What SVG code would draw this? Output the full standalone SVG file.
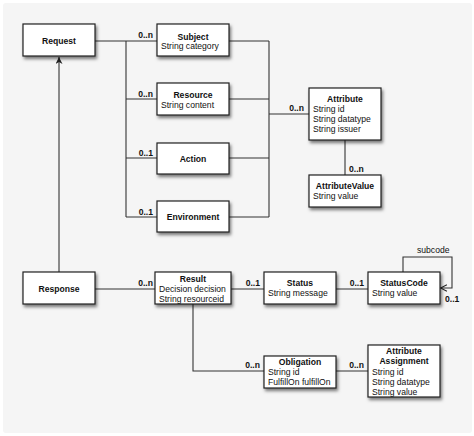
<svg xmlns="http://www.w3.org/2000/svg" width="474" height="436" viewBox="0 0 474 436">
<defs>
<filter id="sh" x="-20%" y="-20%" width="150%" height="160%">
<feDropShadow dx="1.5" dy="2.5" stdDeviation="1.5" flood-color="#000" flood-opacity="0.5"/>
</filter>
<marker id="open" viewBox="0 0 10 10" refX="9" refY="5" markerWidth="8" markerHeight="8" markerUnits="userSpaceOnUse" orient="auto">
<path d="M1,1 L9,5 L1,9" fill="none" stroke="#222" stroke-width="1.3"/>
</marker>
<marker id="stealth" viewBox="0 0 10 10" refX="10" refY="5" markerWidth="9" markerHeight="7" markerUnits="userSpaceOnUse" orient="auto">
<path d="M0,0 L10,5 L0,10 L3,5 Z" fill="#222"/>
</marker>
<style>
.box{fill:#fff;stroke:#222;stroke-width:1.2;filter:url(#sh)}
.t{font-family:"Liberation Sans",Arial,sans-serif;font-size:8.6px;fill:#111}
.b{font-weight:bold}
.c{text-anchor:middle}
.e{text-anchor:end}
.ln{fill:none;stroke:#333;stroke-width:1.1}
</style>
</defs>
<rect x="0" y="0" width="474" height="436" fill="#fff"/>
<rect x="3" y="3" width="469" height="430" rx="3" fill="#f5f5f5"/>

<g id="connectors">
<path class="ln" d="M95,41 H157 M126,41 V217 M126,99 H157 M126,158 H157 M126,217 H157"/>
<path class="ln" d="M229,41 H269 M229,99 H269 M229,158 H269 M229,217 H269 M269,41 V217 M269,114 H309"/>
<path class="ln" d="M345,140 V175"/>
<path class="ln" d="M59,272 V57" marker-end="url(#stealth)"/>
<path class="ln" d="M95,289 H155 M231,289 H264 M336,289 H368"/>
<path class="ln" d="M403,272 V257 H452 V288 H440.5" marker-end="url(#open)"/>
<path class="ln" d="M193,304 V371 H264 M336,371 H368"/>
<text class="t b e" x="153" y="38">0..n</text>
<text class="t b e" x="153" y="96.5">0..n</text>
<text class="t b e" x="153" y="155.5">0..1</text>
<text class="t b e" x="153" y="214.5">0..1</text>
<text class="t b e" x="304" y="110.5">0..n</text>
<text class="t b" x="349" y="172">0..n</text>
<text class="t b e" x="153" y="286">0..n</text>
<text class="t b e" x="260" y="286">0..1</text>
<text class="t b e" x="364" y="286">0..1</text>
<text class="t" x="417" y="252.5">subcode</text>
<text class="t b" x="445" y="301.5">0..1</text>
<text class="t b e" x="260" y="368">0..n</text>
<text class="t b e" x="364" y="368">0..n</text>
</g>

<g id="Request"><rect class="box" x="23" y="24" width="72" height="32"/><text class="t b c" x="59" y="43.5">Request</text></g>
<g id="Subject"><rect class="box" x="157" y="24" width="72" height="32"/><text class="t b c" x="193" y="39.5">Subject</text><text class="t" x="161" y="49">String category</text></g>
<g id="Resource"><rect class="box" x="157" y="83" width="72" height="32"/><text class="t b c" x="193" y="98">Resource</text><text class="t" x="161" y="107.5">String content</text></g>
<g id="Action"><rect class="box" x="157" y="143" width="72" height="31"/><text class="t b c" x="193" y="161.5">Action</text></g>
<g id="Environment"><rect class="box" x="157" y="201" width="72" height="31"/><text class="t b c" x="193" y="220">Environment</text></g>
<g id="Attribute"><rect class="box" x="309" y="88" width="72" height="52"/><text class="t b c" x="345" y="101.5">Attribute</text><text class="t" x="313" y="111.5">String id</text><text class="t" x="313" y="121.5">String datatype</text><text class="t" x="313" y="131.5">String issuer</text></g>
<g id="AttributeValue"><rect class="box" x="309" y="175" width="72" height="32"/><text class="t b c" x="345" y="188.5">AttributeValue</text><text class="t" x="313" y="198.5">String value</text></g>
<g id="Response"><rect class="box" x="23" y="272" width="72" height="32"/><text class="t b c" x="59" y="292">Response</text></g>
<g id="Result"><rect class="box" x="155" y="272" width="76" height="32"/><text class="t b c" x="193" y="281.5">Result</text><text class="t" x="159" y="292">Decision decision</text><text class="t" x="159" y="302">String resourceid</text></g>
<g id="Status"><rect class="box" x="264" y="272" width="72" height="32"/><text class="t b c" x="300" y="286">Status</text><text class="t" x="268" y="296">String message</text></g>
<g id="StatusCode"><rect class="box" x="368" y="272" width="72" height="32"/><text class="t b c" x="404" y="286">StatusCode</text><text class="t" x="372" y="296">String value</text></g>
<g id="Obligation"><rect class="box" x="264" y="356" width="72" height="32"/><text class="t b c" x="300" y="364.5">Obligation</text><text class="t" x="268" y="374.5">String id</text><text class="t" x="268" y="384.5">FulfillOn fulfillOn</text></g>
<g id="AttributeAssignment"><rect class="box" x="368" y="345" width="72" height="52"/><text class="t b c" x="404" y="354">Attribute</text><text class="t b c" x="404" y="364">Assignment</text><text class="t" x="372" y="374.5">String id</text><text class="t" x="372" y="384.5">String datatype</text><text class="t" x="372" y="394.5">String value</text></g>
</svg>
